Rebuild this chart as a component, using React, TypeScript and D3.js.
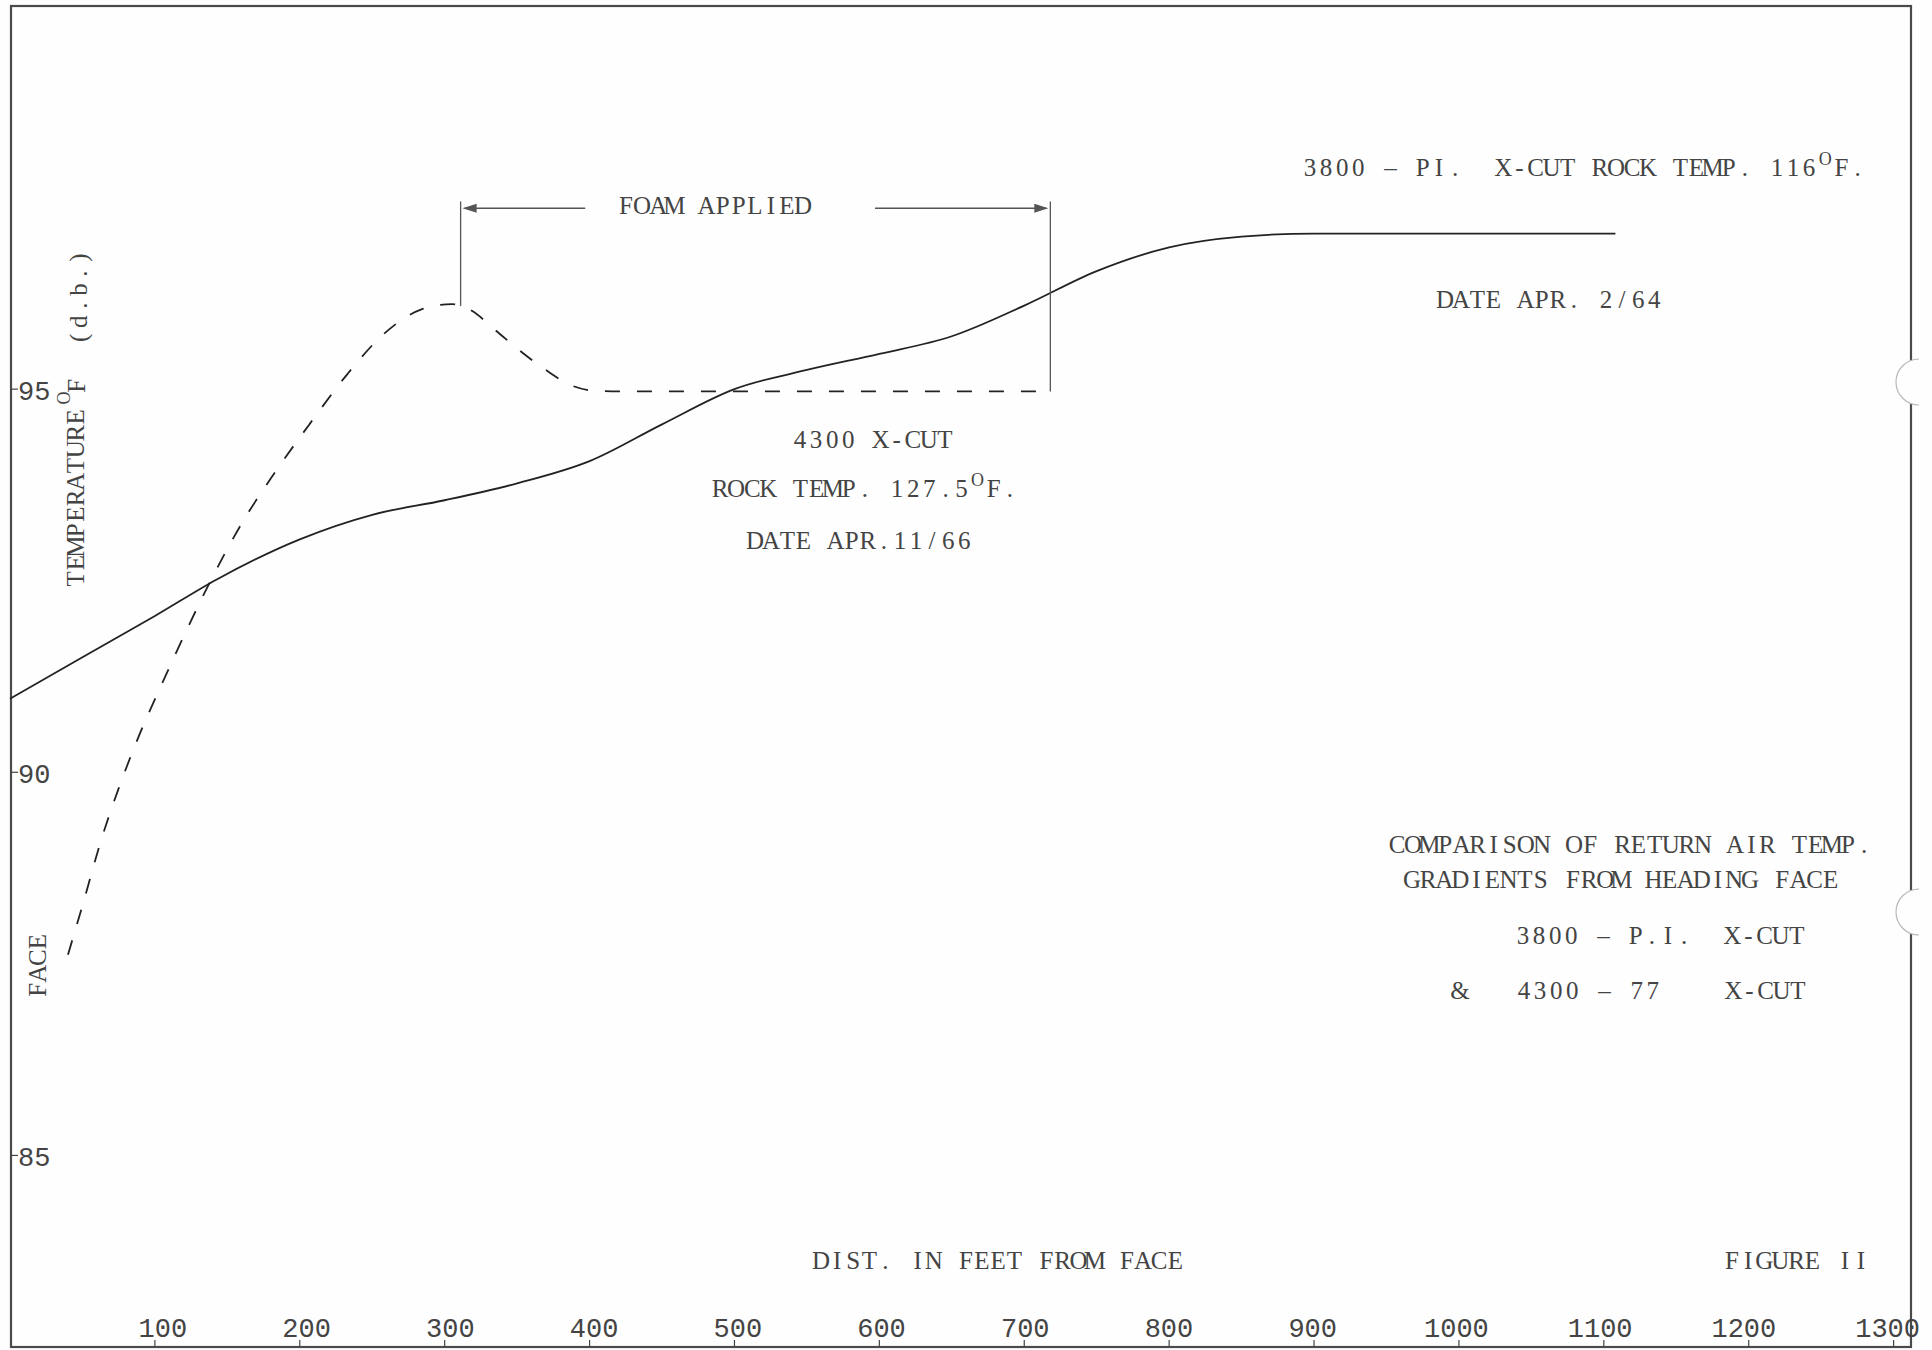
import React from 'react';
import * as d3 from 'd3';

const W = 1932;
const H = 1350;

// 3800 - P.I. X-CUT (solid line), distance in feet from face vs temperature °F (d.b.)
const distance3800 = [0, 50, 100, 143, 200, 250, 300, 350, 400, 450, 500, 550, 600, 650, 700, 750, 800, 850, 900, 1000, 1108];
const temp3800 = [90.96, 91.5, 92.04, 92.52, 93.04, 93.36, 93.55, 93.77, 94.06, 94.54, 95.0, 95.25, 95.46, 95.69, 96.09, 96.54, 96.85, 96.99, 97.03, 97.03, 97.03];

// 4300 - 77 X-CUT (dashed line)
const distance4300 = [40, 50, 63, 75, 88, 105, 122, 139, 160, 182, 207, 233, 258, 284, 305, 318, 335, 352, 369, 386, 403, 420, 718];
const temp4300 = [87.62, 88.26, 89.12, 89.79, 90.43, 91.16, 91.86, 92.52, 93.25, 93.89, 94.55, 95.2, 95.72, 96.04, 96.11, 96.03, 95.77, 95.5, 95.26, 95.06, 94.98, 94.97, 94.97];

const xTickValues = [100, 200, 300, 400, 500, 600, 700, 800, 900, 1000, 1100, 1200, 1300];
const yTickValues = [85, 90, 95];

// Foam applied interval (ft) and bracket level (°F)
const foamStart = 311;
const foamEnd = 718;
const bracketTop = 97.45;
const arrowLevel = 97.36;

const SERIF = "'Liberation Serif', 'DejaVu Serif', serif";
const MONO = "'Liberation Mono', monospace";
const INK = '#444';
const LINE = '#222';
const PITCH = 16.1;

type Seg = { s: string; sup?: boolean };

// typewriter-style text: one glyph per fixed-pitch cell, kept as one <text>
function TT({ x, y, segs, pitch = PITCH, size = 25 }: { x: number; y: number; segs: Seg[]; pitch?: number; size?: number }) {
  let i = 0;
  return (
    <text y={y} fontFamily={SERIF} fontSize={size} fill={INK} textAnchor="middle" style={{ whiteSpace: 'pre' }}>
      {segs.map((seg, k) => {
        const xs = Array.from(seg.s).map(() => {
          const v = x + i * pitch + pitch / 2;
          i += 1;
          return v.toFixed(1);
        });
        return (
          <tspan key={k} x={xs.join(' ')} y={seg.sup ? y - 11 : y} fontSize={seg.sup ? 18 : size}>
            {seg.s}
          </tspan>
        );
      })}
    </text>
  );
}

export default function App() {
  const x = d3.scaleLinear().domain([0, 1312]).range([10, 1911]);
  const y = d3.scaleLinear().domain([82.5, 100]).range([1347, 6]);

  const line = d3
    .line<[number, number]>()
    .x((d) => x(d[0]))
    .y((d) => y(d[1]))
    .curve(d3.curveMonotoneX);

  const solidPts = distance3800.map((d, i) => [d, temp3800[i]] as [number, number]);
  const dashPts = distance4300.map((d, i) => [d, temp4300[i]] as [number, number]);

  const [x0, x1] = x.range();
  const [yb, yt] = y.range();

  const peakT = d3.max(temp4300) as number;
  const endT = temp4300[temp4300.length - 1];

  const ax = x(foamStart);
  const bx = x(foamEnd);
  const ay = y(arrowLevel);

  return (
    <svg
      width={W}
      height={H}
      viewBox={`0 0 ${W} ${H}`}
      style={{ position: 'absolute', left: 0, top: 0, background: '#fff' }}
    >
      <rect x={0} y={0} width={W} height={H} fill="#fefefe" />

      {/* frame */}
      <rect x={x0 + 1} y={yt} width={x1 - x0 - 1} height={yb - yt} fill="none" stroke="#4a4a4a" strokeWidth={2.2} />

      {/* hole punches */}
      {[382, 912].map((cy) => (
        <path
          key={cy}
          d={`M ${x1 + 8} ${cy - 23} A 23 23 0 0 0 ${x1 + 8} ${cy + 23}`}
          fill="#fefefe"
          stroke="#b8b8b8"
          strokeWidth={1.2}
        />
      ))}

      {/* x ticks */}
      {xTickValues.map((t) => (
        <g key={t}>
          <line x1={x(t)} x2={x(t)} y1={yb} y2={yb - 7} stroke="#444" strokeWidth={1.2} />
          <text
            x={x(t) + 8 - (14 * (t - 100)) / 1200}
            y={yb - 10}
            textAnchor="middle"
            fontFamily={MONO}
            fontSize={27}
            fill={INK}
          >
            {t}
          </text>
        </g>
      ))}

      {/* y ticks */}
      {yTickValues.map((t) => (
        <g key={t}>
          <line x1={x0 + 1} x2={x0 + 8} y1={y(t)} y2={y(t)} stroke="#444" strokeWidth={1.2} />
          <text x={x0 + 8} y={y(t) + 11} fontFamily={MONO} fontSize={27} fill={INK}>
            {t}
          </text>
        </g>
      ))}

      {/* curves */}
      <path d={line(solidPts) || ''} fill="none" stroke={LINE} strokeWidth={1.8} />
      <path
        d={line(dashPts) || ''}
        fill="none"
        stroke={LINE}
        strokeWidth={1.8}
        strokeDasharray="15 17"
      />

      {/* foam applied bracket */}
      <line x1={ax} x2={ax} y1={y(bracketTop)} y2={y(peakT) + 2} stroke="#555" strokeWidth={1.3} />
      <line x1={bx} x2={bx} y1={y(bracketTop)} y2={y(endT)} stroke="#555" strokeWidth={1.3} />
      <line x1={ax + 4} x2={x(397)} y1={ay} y2={ay} stroke="#555" strokeWidth={1.6} />
      <path d={`M ${ax + 2} ${ay} L ${ax + 16} ${ay - 4.5} L ${ax + 16} ${ay + 4.5} Z`} fill="#555" />
      <line x1={x(597)} x2={bx - 4} y1={ay} y2={ay} stroke="#555" strokeWidth={1.6} />
      <path d={`M ${bx - 2} ${ay} L ${bx - 16} ${ay - 4.5} L ${bx - 16} ${ay + 4.5} Z`} fill="#555" />
      <TT x={618} y={214} segs={[{ s: 'FOAM APPLIED' }]} />

      {/* 3800 annotation */}
      <TT x={1302} y={176} segs={[{ s: '3800 – PI.  X-CUT ROCK TEMP. 116' }, { s: 'O', sup: true }, { s: 'F.' }]} />
      <TT x={1437} y={308} segs={[{ s: 'DATE APR. 2/64' }]} />

      {/* 4300 annotation */}
      <TT x={792} y={448} segs={[{ s: '4300 X-CUT' }]} />
      <TT x={712} y={497} segs={[{ s: 'ROCK TEMP. 127.5' }, { s: 'O', sup: true }, { s: 'F.' }]} />
      <TT x={747} y={549} segs={[{ s: 'DATE APR.11/66' }]} />

      {/* title block */}
      <TT x={1389} y={853} segs={[{ s: 'COMPARISON OF RETURN AIR TEMP.' }]} />
      <TT x={1404} y={888} segs={[{ s: 'GRADIENTS FROM HEADING FACE' }]} />
      <TT x={1515} y={944} segs={[{ s: '3800 – P.I.  X-CUT' }]} />
      <TT x={1452} y={999} segs={[{ s: '&' }]} />
      <TT x={1516} y={999} segs={[{ s: '4300 – 77    X-CUT' }]} />

      {/* axis titles */}
      <TT x={813} y={1269} segs={[{ s: 'DIST. IN FEET FROM FACE' }]} />
      <TT x={1724} y={1269} segs={[{ s: 'FIGURE II' }]} />

      <g transform="translate(84, 587) rotate(-90)">
        <TT x={0} y={0} pitch={16.2} segs={[{ s: 'TEMPERATURE' }]} />
      </g>
      <g transform="translate(70, 404) rotate(-90)">
        <TT x={0} y={0} pitch={12} size={18} segs={[{ s: 'O' }]} />
      </g>
      <g transform="translate(85, 394) rotate(-90)">
        <TT x={0} y={0} segs={[{ s: 'F' }]} />
      </g>
      <g transform="translate(87, 346) rotate(-90)">
        <TT x={0} y={0} segs={[{ s: '(d.b.)' }]} />
      </g>
      <g transform="translate(46, 998) rotate(-90)">
        <TT x={0} y={0} segs={[{ s: 'FACE' }]} />
      </g>
    </svg>
  );
}
